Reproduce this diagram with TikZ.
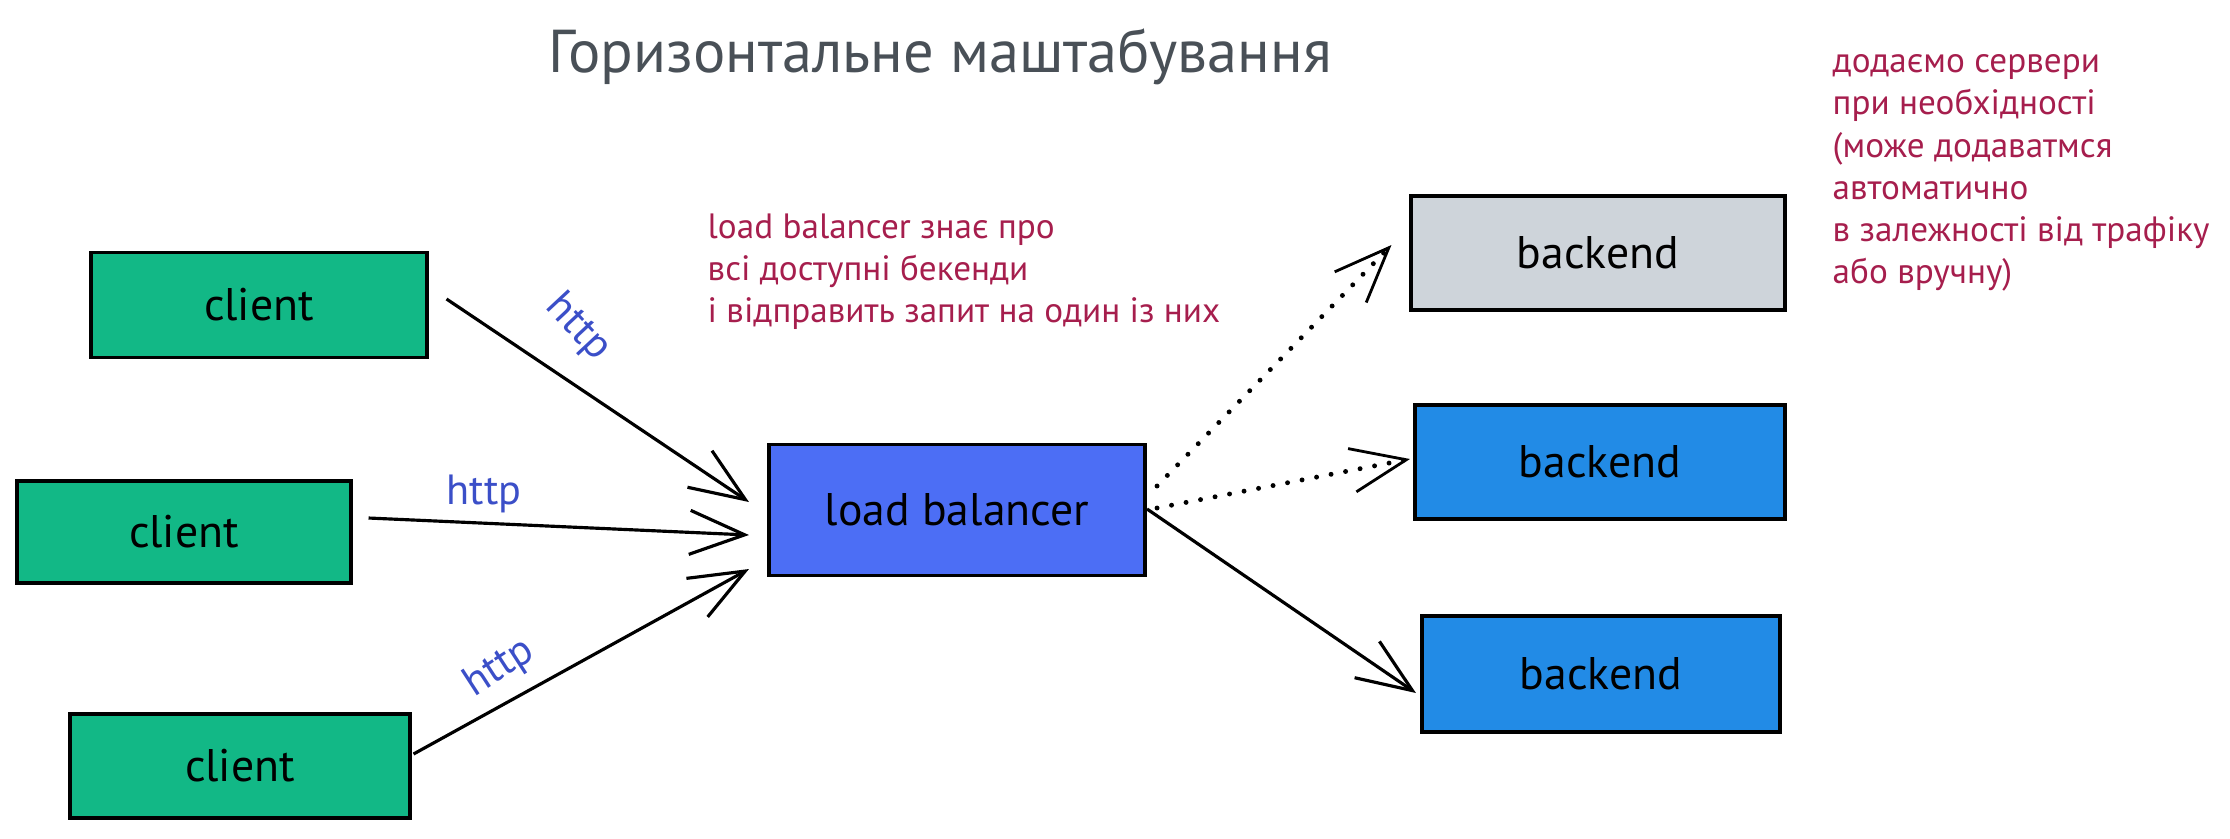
\documentclass[tikz,border=0pt]{standalone}
\usepackage{fontspec}
\setmainfont{PT Sans}
\usetikzlibrary{arrows.meta,calc}
\definecolor{clientgreen}{HTML}{12B886}
\definecolor{lbblue}{HTML}{4C6EF5}
\definecolor{backblue}{HTML}{228BE6}
\definecolor{backgrey}{HTML}{CED4DA}
\definecolor{notered}{HTML}{A61E4D}
\definecolor{httpblue}{HTML}{3B4FC8}
\definecolor{titlegrey}{HTML}{495057}
\begin{document}
\begin{tikzpicture}[x=0.01cm, y=-0.01cm,
  main/.style = {draw, line width=1.1pt, inner sep=0pt, font=\fontsize{13}{15}\selectfont},
  note/.style = {anchor=north west, align=left, inner sep=0pt, text=notered, font=\fontsize{10}{12}\selectfont},
  proto/.style = {text=httpblue, font=\fontsize{12}{14}\selectfont},
  arr/.style = {-{Straight Barb[length=5.5mm,width=4.4mm]}, line width=0.9pt},
  maybe/.style = {-{Straight Barb[length=5.5mm,width=4.4mm,line width=0.8pt]}, line width=1.4pt, dash pattern=on 0pt off 4.2pt, line cap=round}]
\useasboundingbox (0,0) rectangle (2230,838);
\node[text=titlegrey, font=\fontsize{17.2}{20}\selectfont] (title) at (940,57) {Горизонтальне маштабування};
\node[main, fill=clientgreen, minimum width=3.35cm, minimum height=1.05cm] (1) at (259,305) {client};
\node[main, fill=clientgreen, minimum width=3.33cm, minimum height=1.02cm] (2) at (184,532) {client};
\node[main, fill=clientgreen, minimum width=3.39cm, minimum height=1.04cm] (3) at (240,766) {client};
\node[main, fill=lbblue, minimum width=3.76cm, minimum height=1.31cm] (4) at (957,510) {load balancer};
\node[main, fill=backgrey, minimum width=3.73cm, minimum height=1.14cm] (5) at (1598,253) {backend};
\node[main, fill=backblue, minimum width=3.70cm, minimum height=1.14cm] (6) at (1600,462) {backend};
\node[main, fill=backblue, minimum width=3.58cm, minimum height=1.16cm] (7) at (1601,674) {backend};
\node[note] (n1) at (707,213) {load balancer знає про\\всі доступні бекенди\\і відправить запит на один із них};
\node[note] (n2) at (1832,54) {додаємо сервери\\при необхідності\\(може додаватмся\\автоматично\\в залежності від трафіку\\або вручну)};
\node[proto, rotate=-47] (h1) at (578,328) {http};
\node[proto] (h2) at (484,494) {http};
\node[proto, rotate=33] (h3) at (500,668) {http};
\draw[arr] ($(1.east)+(18,-6)$) -- ($(4.west)+(-18,-8)$);
\draw[arr] ($(2.east)+(16,-14)$) -- ($(4.west)+(-18,25)$);
\draw[arr] ($(3.east)+(2,-12)$) -- ($(4.west)+(-18,59)$);
\draw[maybe] ($(4.east)+(10,-24)$) -- ($(5.west)+(-18,-8)$);
\draw[maybe] ($(4.east)+(10,-2)$) -- ($(6.west)+(-3,-3)$);
\draw[arr] ($(4.east)+(0,-1)$) -- ($(7.west)+(-4,19)$);
\end{tikzpicture}
\end{document}
